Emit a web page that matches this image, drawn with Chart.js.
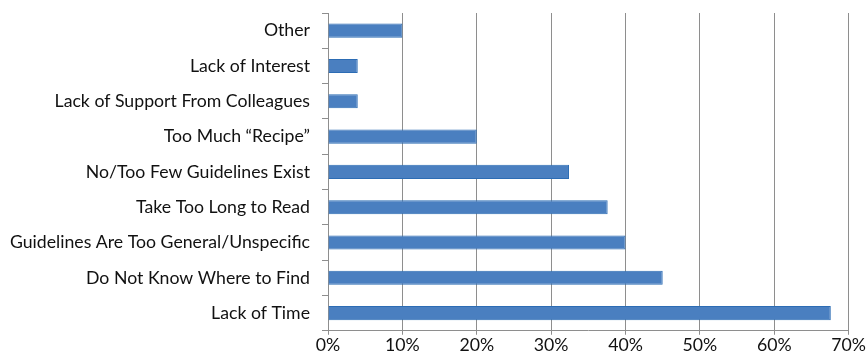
<!DOCTYPE html>
<html>
<head>
<meta charset="utf-8">
<script src="https://cdn.jsdelivr.net/npm/chart.js@4/dist/chart.umd.min.js"></script>
<style>
  html, body { margin: 0; padding: 0; background: #fff; }
  #wrap { width: 866px; height: 356px; }
</style>
</head>
<body>
<div id="wrap"><canvas id="barriers"></canvas></div>
<script>
const categories = [
  "Other",
  "Lack of Interest",
  "Lack of Support From Colleagues",
  "Too Much \u201cRecipe\u201d",
  "No/Too Few Guidelines Exist",
  "Take Too Long to Read",
  "Guidelines Are Too General/Unspecific",
  "Do Not Know Where to Find",
  "Lack of Time"
];
const percentages = [10, 4, 4, 20, 32.4, 37.6, 40, 45, 67.6];
const xTicks = [0, 10, 20, 30, 40, 50, 60, 70];

const labelFont = { family: "Lato", size: 17.7 };

new Chart(document.getElementById("barriers"), {
  type: 'bar',
  data: {
    labels: categories,
    datasets: [
      {
        data: percentages,
        backgroundColor: '#4a7fc0',
        borderColor: '#2c6cb4',
        borderWidth: 1,
        barPercentage: 0.4,
        categoryPercentage: 1
      }
    ]
  },
  options: {
    indexAxis: 'y',
    responsive: true,
    maintainAspectRatio: false,
    animation: false,
    layout: { padding: { top: 13, right: 2, bottom: 0, left: 0 } },
    plugins: {
      legend: { display: false },
      tooltip: { enabled: false }
    },
    scales: {
      x: {
        min: 0,
        max: 70,
        afterBuildTicks: axis => { axis.ticks = xTicks.map(v => ({ value: v })); },
        ticks: {
          color: '#111',
          font: labelFont,
          padding: 0,
          callback: v => v + '%'
        },
        grid: { color: '#8e8e8e', lineWidth: 1, tickLength: 4 },
        border: { color: '#8e8e8e' }
      },
      y: {
        afterFit: axis => {
          axis.width = 328;
          axis.paddingTop = 0;
          axis.paddingBottom = 0;
        },
        ticks: {
          color: '#111',
          font: labelFont,
          padding: 12,
          autoSkip: false
        },
        grid: { drawOnChartArea: false, color: '#8e8e8e', tickLength: 6, offset: true },
        border: { color: '#8e8e8e' }
      }
    }
  }
});
</script>
</body>
</html>
